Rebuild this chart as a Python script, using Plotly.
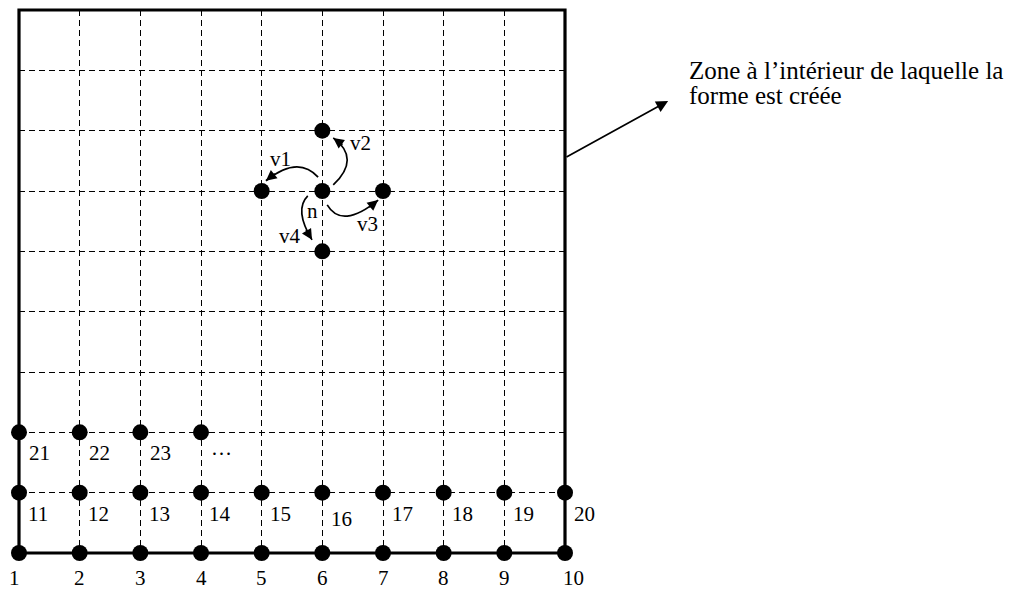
import math
import plotly.graph_objects as go

# ---- data (grid units) ----
grid_n = 9  # square area spans 0..9 in both directions
row0_x = list(range(10)); row0_labels = [str(i) for i in range(1, 11)]
row1_x = list(range(10)); row1_labels = [str(i) for i in range(11, 21)]
row2_x = [0, 1, 2, 3];    row2_labels = ["21", "22", "23", "…"]
center = (5, 6)
neighbours_x = [4, 6, 5, 5]
neighbours_y = [6, 6, 7, 5]
move_labels = ["v1", "v2", "v3", "v4"]
note_lines = ["Zone à l’intérieur de laquelle la", "forme est créée"]

FONT = "Liberation Serif, Times New Roman, serif"
fig = go.Figure()

shapes = []
# thick border around the zone (paper refs so the line is not clipped)
shapes.append(dict(type="rect", x0=0, x1=1, y0=0, y1=1, xref="paper", yref="paper",
                   line=dict(color="black", width=3.2), layer="above"))

# curved arrows around the centre node (quadratic curves: start, control, end)
cx, cy = center
curves = [
    ((cx - 0.07, cy + 0.23), (cx - 0.40, cy + 0.60), (cx - 0.93, cy + 0.17)),
    ((cx + 0.18, cy + 0.10), (cx + 0.64, cy + 0.54), (cx + 0.18, cy + 0.88)),
    ((cx + 0.08, cy - 0.23), (cx + 0.32, cy - 0.64), (cx + 0.92, cy - 0.15)),
    ((cx - 0.24, cy - 0.08), (cx - 0.47, cy - 0.31), (cx - 0.17, cy - 0.81)),
]
annotations = []
for (p0, c, p2) in curves:
    shapes.append(dict(type="path", xref="x", yref="y",
                       path=f"M {p0[0]},{p0[1]} Q {c[0]},{c[1]} {p2[0]},{p2[1]}",
                       line=dict(color="black", width=1.7)))
    dx, dy = c[0] - p2[0], c[1] - p2[1]
    d = math.hypot(dx, dy)
    L = 0.22
    annotations.append(dict(x=p2[0], y=p2[1], ax=p2[0] + dx / d * L, ay=p2[1] + dy / d * L,
                            xref="x", yref="y", axref="x", ayref="y", text="",
                            showarrow=True, arrowhead=2, arrowsize=1.25, arrowwidth=1.7,
                            arrowcolor="black", standoff=0, startstandoff=0))

# points
all_x = row0_x + row1_x + row2_x + [center[0]] + neighbours_x
all_y = [0] * len(row0_x) + [1] * len(row1_x) + [2] * len(row2_x) + [center[1]] + neighbours_y
fig.add_trace(go.Scatter(x=all_x, y=all_y, mode="markers", cliponaxis=False,
                         marker=dict(size=16, color="black"), hoverinfo="skip"))

lab_font = dict(family=FONT, size=21, color="black")
for x, lab in zip(row0_x, row0_labels):
    annotations.append(dict(x=x, y=0, text=lab, showarrow=False, xref="x", yref="y",
                            yshift=-25, xshift=(-5 if x == 0 else 0) + (8 if x == 9 else 0),
                            font=lab_font))
for x, lab in zip(row1_x, row1_labels):
    annotations.append(dict(x=x, y=1, text=lab, showarrow=False, xref="x", yref="y",
                            xshift=19, yshift=(-26 if lab == "16" else -21), font=lab_font))
for x, lab in zip(row2_x, row2_labels):
    annotations.append(dict(x=x, y=2, text=lab, showarrow=False, xref="x", yref="y",
                            xshift=20, yshift=-21 if lab != "…" else -16, font=lab_font))

label_pos = [(cx - 0.69, cy + 0.53), (cx + 0.63, cy + 0.80), (cx + 0.74, cy - 0.55), (cx - 0.54, cy - 0.74)]
for (lx, ly), lab in zip(label_pos, move_labels):
    annotations.append(dict(x=lx, y=ly, text=lab, showarrow=False, xref="x", yref="y",
                            font=lab_font))
annotations.append(dict(x=cx - 0.16, y=cy - 0.33, text="n", showarrow=False, xref="x", yref="y",
                        font=lab_font))

# side note with arrow
annotations.append(dict(x=10.70, y=7.49, ax=grid_n, ay=6.55, xref="x", yref="y",
                        axref="x", ayref="y", text="", showarrow=True, arrowhead=2,
                        arrowsize=1.4, arrowwidth=1.7, arrowcolor="black",
                        standoff=0, startstandoff=0))
for line, yp in zip(note_lines, [0.889, 0.842]):
    annotations.append(dict(x=1.223, y=yp, xref="paper", yref="paper", xanchor="left",
                            yanchor="middle", align="left", showarrow=False, text=line,
                            font=dict(family=FONT, size=25, color="black")))

grid_style = dict(range=[0, grid_n], dtick=1, tick0=0, showgrid=True, gridcolor="black",
                  gridwidth=1.3, griddash="6px,4px", zeroline=False, showline=False,
                  showticklabels=False, ticks="", fixedrange=True)

# page body has an 8px margin, so the figure is 8px smaller than the window
fig.update_layout(
    width=1019, height=582,
    margin=dict(l=11, r=462, t=2, b=37, autoexpand=False),
    paper_bgcolor="white", plot_bgcolor="white",
    showlegend=False, shapes=shapes, annotations=annotations,
    xaxis=grid_style, yaxis=grid_style,
)
fig.write_html("out.html")
